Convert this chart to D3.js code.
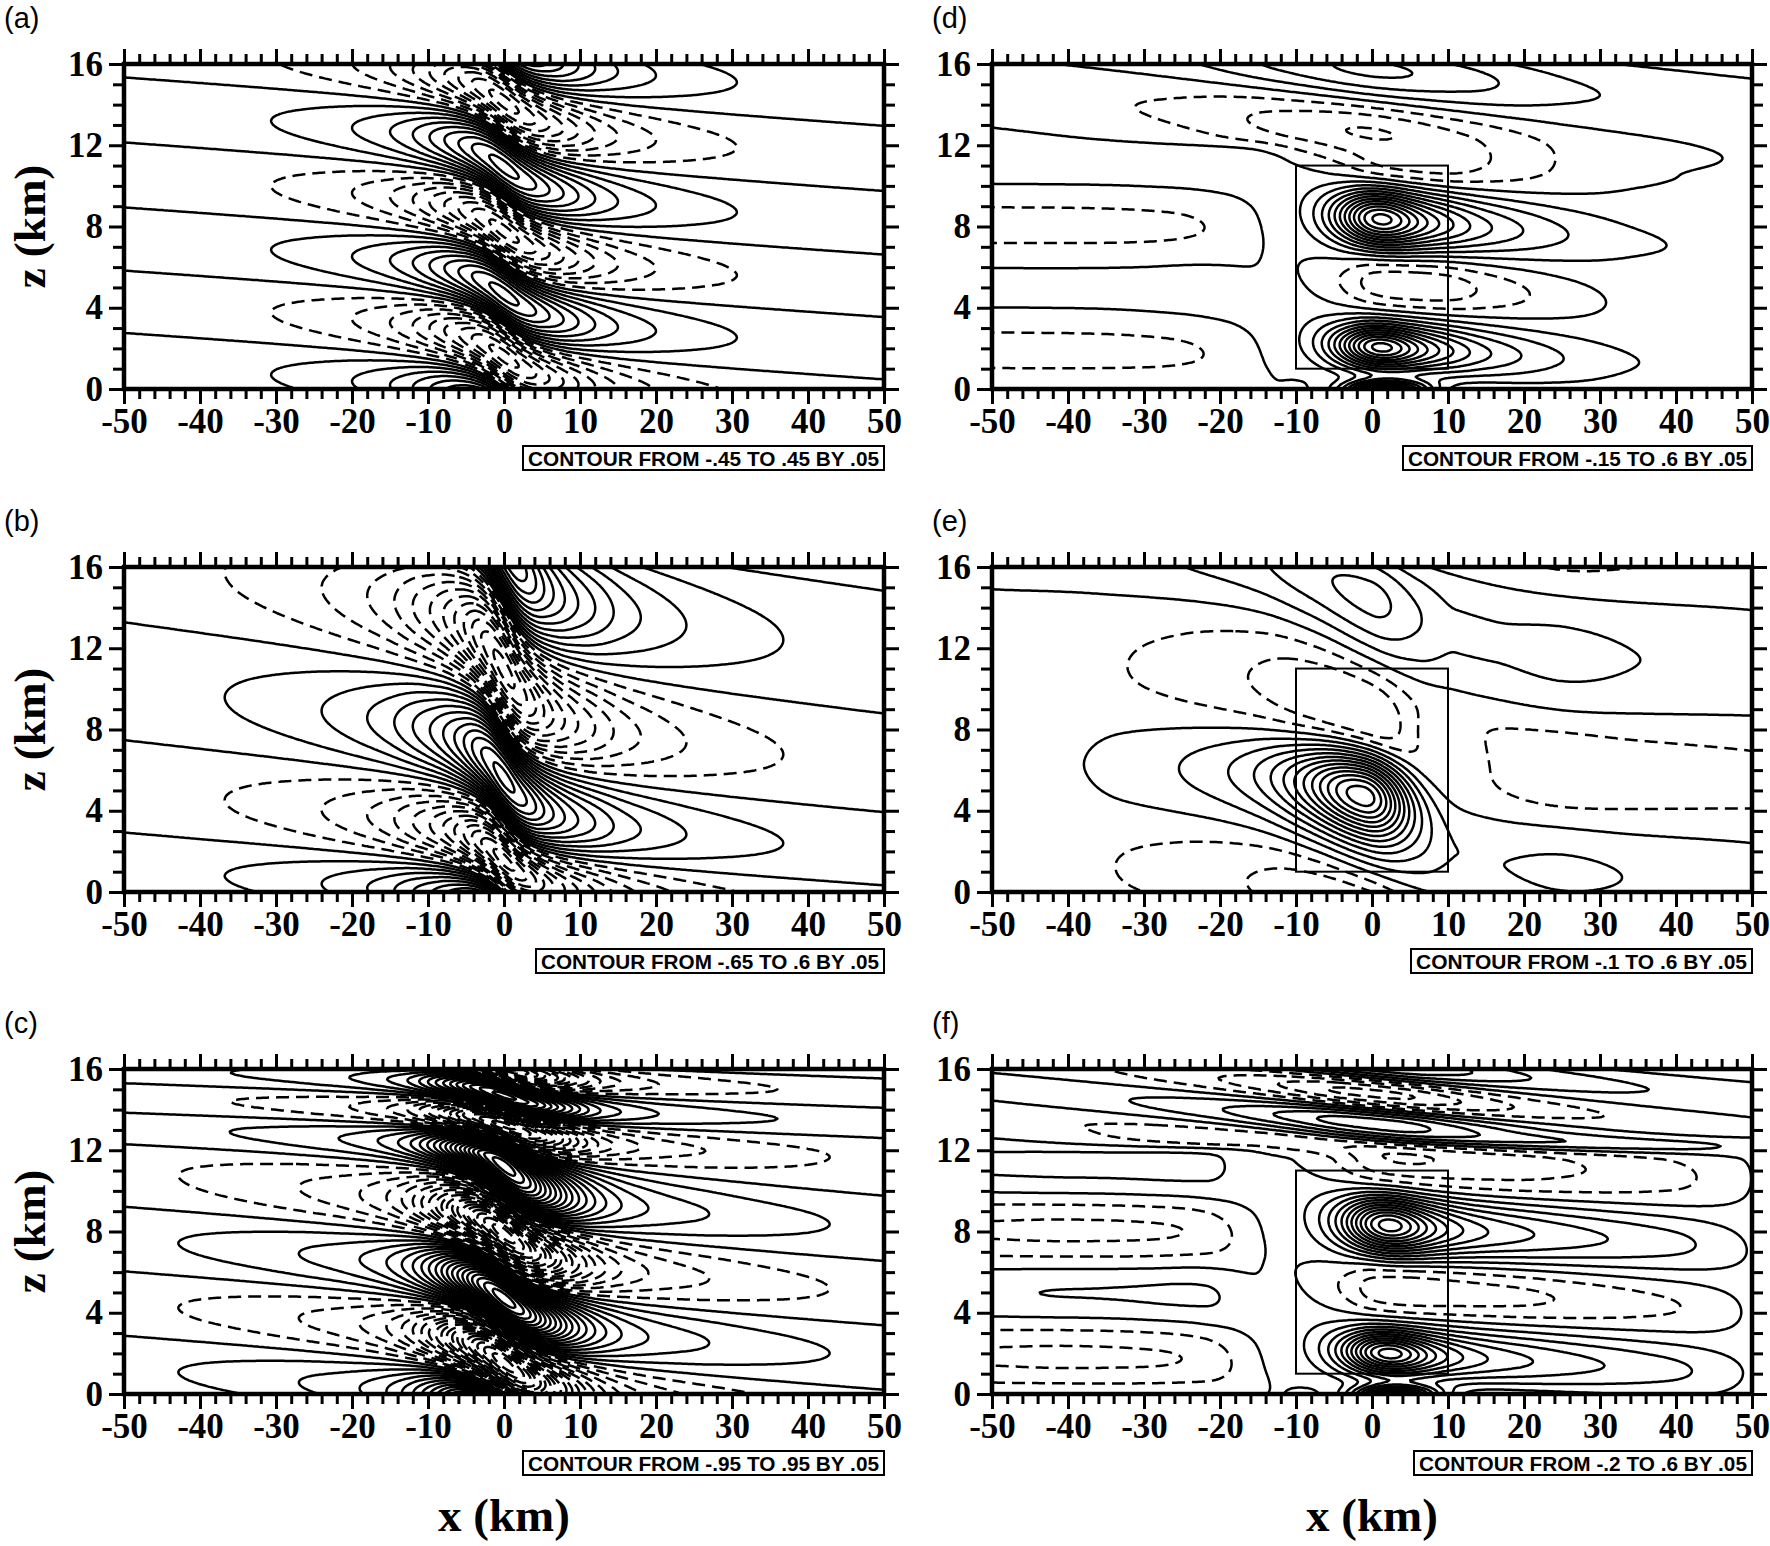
<!DOCTYPE html>
<html>
<head>
<meta charset="utf-8">
<script src="https://cdn.jsdelivr.net/npm/d3@7"></script>
<style>
  body { margin: 0; background: #fff; }
</style>
</head>
<body>
<div id="chart"></div>
<script>
// ---- values ----
const xTicks = [-50, -40, -30, -20, -10, 0, 10, 20, 30, 40, 50];
const zTicks = [0, 4, 8, 12, 16];
const panelIds = ["a", "b", "c", "d", "e", "f"];
const contourLabels = [
  "CONTOUR FROM -.45 TO .45 BY .05",
  "CONTOUR FROM -.65 TO .6 BY .05",
  "CONTOUR FROM -.95 TO .95 BY .05",
  "CONTOUR FROM -.15 TO .6 BY .05",
  "CONTOUR FROM -.1 TO .6 BY .05",
  "CONTOUR FROM -.2 TO .6 BY .05"
];
const levelFrom = [-0.45, -0.65, -0.95, -0.15, -0.1, -0.2];
const levelTo = [0.45, 0.6, 0.95, 0.6, 0.6, 0.6];
const levelStep = 0.05;
const boxX = [-10, 10];   // rectangle drawn in d, e, f
const boxZ = [1, 11];

// zero-line heights on the left edge (km), phase shift along x (units of pi),
// amplitude envelope along x, and local cores / offsets
const shiftX = [-50, -40, -30, -20, -15, -10, -7, -4, -2, 0, 2, 4, 7, 10, 15, 20, 30, 40, 50];

// (a)
const zeroA = [2.76, 5.83, 8.94, 12.14, 15.34];
const shiftA = [0, 0.086, 0.176, 0.276, 0.336, 0.414, 0.482, 0.591, 0.709, 0.873, 1.036, 1.154, 1.263, 1.331, 1.409, 1.469, 1.569, 1.659, 1.745];
const envXA = [-50, -40, -30, -20, -15, -12, -9, -6, -3, 0, 3, 6, 9, 12, 15, 20, 30, 40, 50];
const envA = [0.025, 0.035, 0.052, 0.1, 0.15, 0.2, 0.27, 0.35, 0.43, 0.47, 0.43, 0.35, 0.27, 0.2, 0.15, 0.1, 0.052, 0.035, 0.025];

// (b)
const zeroB = [-0.5, 2.93, 7.48, 13.28, 19.8];
const shiftB = [0, 0.085, 0.173, 0.270, 0.326, 0.399, 0.461, 0.565, 0.687, 0.877, 1.066, 1.189, 1.292, 1.355, 1.427, 1.484, 1.581, 1.669, 1.754];
const envXB = [-50, -36, -24, -18, -15, -12, -9, -6, -3, 0, 3, 6, 9, 12, 15, 18, 24, 36, 50];
const envB = [0.03, 0.052, 0.1, 0.15, 0.19, 0.25, 0.32, 0.42, 0.55, 0.62, 0.55, 0.42, 0.32, 0.25, 0.19, 0.15, 0.1, 0.052, 0.03];

// (c)
const zeroC = [-0.3, 2.87, 6.04, 9.22, 12.3, 13.85, 15.3, 16.75];
const shiftC = [0, 0.095, 0.195, 0.305, 0.369, 0.452, 0.523, 0.635, 0.755, 0.920, 1.086, 1.206, 1.317, 1.388, 1.471, 1.536, 1.645, 1.745, 1.840];
const envXC = [-50, -42, -27, -19, -15, -12, -9, -6, -3, 0, 3, 6, 9, 12, 15, 19, 27, 42, 50];
const envC = [0.038, 0.052, 0.1, 0.15, 0.21, 0.3, 0.45, 0.66, 0.88, 0.98, 0.88, 0.66, 0.45, 0.3, 0.21, 0.15, 0.1, 0.052, 0.038];
const envTopXC = [-50, -35, -25, -18, -12, -8, -4, 0, 4, 8, 12, 18, 25, 35, 50];
const envTopC = [0.03, 0.052, 0.08, 0.12, 0.22, 0.4, 0.62, 0.72, 0.62, 0.4, 0.22, 0.12, 0.08, 0.052, 0.03];

// (d)
const zeroD = [0.265, 3.415, 6.565, 9.735, 13.13, 16.3];
const shiftXD = [-50, -30, -21, -16, -13, -10, -6, 0, 10, 25, 50];
const shiftD = [0, 0.02, 0.06, 0.2, 0.45, 0.7, 0.85, 0.92, 1.0, 1.15, 1.47];
const shiftTopXD = [-50, 50];
const shiftTopD = [0, 1.34];
const envXD = [-50, -30, -22, -17, -14, -11, -8, -4, 0, 5, 10, 15, 20, 25, 35, 50];
const envD = [0.045, 0.045, 0.04, 0.02, 0.005, 0.01, 0.03, 0.08, 0.15, 0.17, 0.16, 0.12, 0.085, 0.055, 0.018, 0.01];
const envTopXD = [-50, -35, -25, -12, 0, 12, 25, 35, 50];
const envTopD = [0.03, 0.04, 0.06, 0.12, 0.16, 0.12, 0.06, 0.04, 0.03];
const coresD = [
  { x: -60, z: 5, a: -0.026, wl: 30, pl: 0, wr: 40, pr: -6, h: 7, tilt: 0 },
  { x: 23, z: 5, a: 0.03, wl: 36, pl: -6, wr: 80, pr: 0, h: 6, tilt: 0 },
  { x: 1, z: 8.37, a: 0.44, wl: 6, pl: 0, wr: 6, pr: 1, h: 1.3, tilt: -0.03 },
  { x: 1, z: 2.05, a: 0.44, wl: 6, pl: 0, wr: 6, pr: 1, h: 1.0, tilt: -0.02 },
  { x: 1.5, z: -0.1, a: 0.6, wl: 5, pl: 0, wr: 6, pr: 0, h: 0.5, tilt: 0 }
];

// (e)
const zeroE = [-1.5, 3.6, 8.5, 14.6, 19.8];
const shiftXE = [-50, -30, -15, -8, -1, 8, 20, 50];
const shiftE = [0, 0.03, 0.15, 0.3, 0.5, 0.75, 0.95, 1.1];
const envXE = [-50, -38, -33, -25, -16, -9, 0, 6, 11, 16, 25, 35, 50];
const envE = [0.012, 0.022, 0.038, 0.06, 0.09, 0.13, 0.17, 0.11, 0.065, 0.065, 0.075, 0.06, 0.045];
const coresE = [
  { x: 0, z: 5.5, a: -0.025, wl: 300, pl: 0, wr: 300, pr: 0, h: 6, tilt: 0 },
  { x: -1.07, z: 5.0, a: 0.54, wl: 12, pl: 2, wr: 6, pr: 0, h: 2.0, tilt: -0.08 },
  { x: 9, z: 7.3, a: 0.09, wl: 6, pl: 0, wr: 7, pr: 0, h: 1.5, tilt: -0.15 }
];

// (f)
const zeroF = [0.21, 3.39, 6.57, 9.66, 12.8, 14.34, 15.87, 17.4];
const shiftXF = [-50, -30, -21, -16, -13, -10, -6, 0, 10, 25, 40, 50];
const shiftF = [0, 0.02, 0.06, 0.2, 0.45, 0.7, 0.85, 0.93, 1.0, 1.1, 1.21, 1.3];
const shiftTopXF = [-50, 50];
const shiftTopF = [0, 2.4];
const envXF = [-50, -40, -30, -22, -17, -14, -11, -8, -4, 0, 5, 10, 15, 20, 25, 35, 42, 50];
const envF = [0.08, 0.085, 0.085, 0.075, 0.03, 0.005, 0.01, 0.03, 0.08, 0.15, 0.17, 0.16, 0.15, 0.14, 0.125, 0.095, 0.07, 0.015];
const envTopXF = [-50, -33, -20, -10, -5, 0, 5, 10, 20, 33, 50];
const envTopF = [0.025, 0.052, 0.1, 0.17, 0.21, 0.22, 0.21, 0.17, 0.1, 0.052, 0.025];
const coresF = [
  { x: -60, z: 5, a: -0.034, wl: 30, pl: 0, wr: 40, pr: -6, h: 7, tilt: 0 },
  { x: 23, z: 5, a: 0.028, wl: 36, pl: -6, wr: 80, pr: 0, h: 8, tilt: 0 },
  { x: 2.2, z: 8.32, a: 0.44, wl: 6, pl: 0, wr: 6, pr: 1, h: 1.3, tilt: -0.03 },
  { x: 2.2, z: 2.0, a: 0.44, wl: 6, pl: 0, wr: 6, pr: 1, h: 1.0, tilt: -0.02 },
  { x: 2.7, z: -0.1, a: 0.6, wl: 5, pl: 0, wr: 6, pr: 0, h: 0.5, tilt: 0 }
];

const fields = [
  { zero: zeroA, sign: -1, sx: shiftX, st: shiftA, ex: envXA, ev: envA, cores: [] },
  { zero: zeroB, sign: 1, sx: shiftX, st: shiftB, ex: envXB, ev: envB, cores: [] },
  { zero: zeroC, sign: 1, sx: shiftX, st: shiftC, ex: envXC, ev: envC,
    tx: envTopXC, tv: envTopC, blend: [11.8, 13.0], cores: [] },
  { zero: zeroD, sign: -1, sx: shiftXD, st: shiftD, ex: envXD, ev: envD,
    tx: envTopXD, tv: envTopD, tsx: shiftTopXD, tst: shiftTopD, blend: [10.5, 12.5], cores: coresD },
  { zero: zeroE, sign: -1, sx: shiftXE, st: shiftE, ex: envXE, ev: envE, cores: coresE },
  { zero: zeroF, sign: -1, sx: shiftXF, st: shiftF, ex: envXF, ev: envF,
    tx: envTopXF, tv: envTopF, tsx: shiftTopXF, tst: shiftTopF, blend: [11.5, 13.0], cores: coresF }
];

// ---- helpers ----
// monotone cubic through a table (Fritsch-Carlson)
function monotone(xs, ys, clamp) {
  const n = xs.length, d = [], m = new Array(n);
  for (let i = 0; i < n - 1; i++) d[i] = (ys[i + 1] - ys[i]) / (xs[i + 1] - xs[i]);
  m[0] = d[0]; m[n - 1] = d[n - 2];
  for (let i = 1; i < n - 1; i++) m[i] = d[i - 1] * d[i] <= 0 ? 0 : (d[i - 1] + d[i]) / 2;
  for (let i = 0; i < n - 1; i++) {
    if (d[i] === 0) { m[i] = 0; m[i + 1] = 0; continue; }
    const a = m[i] / d[i], b = m[i + 1] / d[i], s = a * a + b * b;
    if (s > 9) { const t = 3 / Math.sqrt(s); m[i] = t * a * d[i]; m[i + 1] = t * b * d[i]; }
  }
  return x => {
    if (x <= xs[0]) return clamp ? ys[0] : ys[0] + m[0] * (x - xs[0]);
    if (x >= xs[n - 1]) return clamp ? ys[n - 1] : ys[n - 1] + m[n - 1] * (x - xs[n - 1]);
    const i = Math.min(n - 2, d3.bisectRight(xs, x) - 1);
    const h = xs[i + 1] - xs[i], t = (x - xs[i]) / h, t2 = t * t, t3 = t2 * t;
    return (2 * t3 - 3 * t2 + 1) * ys[i] + (t3 - 2 * t2 + t) * h * m[i] +
           (-2 * t3 + 3 * t2) * ys[i + 1] + (t3 - t2) * h * m[i + 1];
  };
}

// p = 0 gaussian, p > 0 lorentzian power, p < 0 flat-topped
function sideShape(u, p) {
  if (p === 0) return Math.exp(-u * u);
  if (p > 0) return Math.pow(1 + u * u, -p);
  return Math.exp(-Math.pow(Math.abs(u), -p));
}

function coreValue(b, x, z) {
  const dx = x - b.x;
  const hx = dx < 0 ? sideShape(dx / b.wl, b.pl) : sideShape(dx / b.wr, b.pr);
  const dz = (z - b.z - b.tilt * dx) / b.h;
  return b.a * hx * Math.exp(-dz * dz);
}

function makeField(f) {
  const P = monotone(f.zero, f.zero.map((_, i) => i), false);
  const T = monotone(f.sx, f.st, false);
  const A = monotone(f.ex, f.ev, true);
  const At = f.tx ? monotone(f.tx, f.tv, true) : null;
  const Tt = f.tsx ? monotone(f.tsx, f.tst, false) : null;
  return (x, z) => {
    let a = A(x), t = T(x);
    if (f.blend) {
      let s = (z - f.blend[0]) / (f.blend[1] - f.blend[0]);
      s = Math.max(0, Math.min(1, s));
      s = s * s * (3 - 2 * s);
      if (At) a = a * (1 - s) + At(x) * s;
      if (Tt) t = t * (1 - s) + Tt(x) * s;
    }
    let v = f.sign * a * Math.sin(Math.PI * (P(z) + t));
    for (const b of f.cores) v += coreValue(b, x, z);
    return v;
  };
}

// ---- layout ----
const W = 1770, H = 1546;
const cols = [[124, 884], [992, 1752]];
const rows = [[64, 389], [567, 892], [1069, 1394]];
const boxWidths = [361, 348, 361, 349, 341, 338];
const serif = "'Liberation Serif', 'Times New Roman', serif";
const sans = "'Liberation Sans', Arial, Helvetica, sans-serif";

const svg = d3.select("#chart").append("svg")
  .attr("width", W).attr("height", H)
  .attr("viewBox", `0 0 ${W} ${H}`)
  .style("background", "#fff");

const defs = svg.append("defs");

const xMinor = d3.range(-50, 51, 2).filter(v => v % 10 !== 0);
const zMinor = d3.range(0, 17, 1).filter(v => v % 4 !== 0);

panelIds.forEach((id, k) => {
  const col = k < 3 ? 0 : 1, row = k % 3;
  const [x0, x1] = cols[col], [y0, y1] = rows[row];
  const gx = d3.scaleLinear().domain([-50, 50]).range([x0, x1]);
  const gz = d3.scaleLinear().domain([0, 16]).range([y1, y0]);

  defs.append("clipPath").attr("id", "clip-" + id)
    .append("rect").attr("x", x0).attr("y", y0).attr("width", x1 - x0).attr("height", y1 - y0);

  // field sampled on a grid a little larger than the plot
  const X0 = -51, Z0 = -0.6, DX = 0.25, DZ = 0.08;
  const nx = Math.round(102 / DX) + 1, nz = Math.round(17.2 / DZ) + 1;
  const field = makeField(fields[k]);
  const vals = new Float64Array(nx * nz);
  for (let j = 0; j < nz; j++) {
    const z = Z0 + j * DZ;
    for (let i = 0; i < nx; i++) vals[j * nx + i] = field(X0 + i * DX, z);
  }
  const nLev = Math.round((levelTo[k] - levelFrom[k]) / levelStep);
  const levels = d3.range(nLev + 1).map(i => Math.round((levelFrom[k] + i * levelStep) * 100) / 100);
  const contours = d3.contours().size([nx, nz]).thresholds(levels)(vals);

  const cg = svg.append("g").attr("clip-path", `url(#clip-${id})`);
  contours.forEach(c => {
    let d = "";
    c.coordinates.forEach(poly => poly.forEach(ring => {
      d += "M" + ring.map(p =>
        gx(X0 + (p[0] - 0.5) * DX).toFixed(1) + "," + gz(Z0 + (p[1] - 0.5) * DZ).toFixed(1)
      ).join("L");
    }));
    if (!d) return;
    cg.append("path")
      .attr("d", d)
      .attr("fill", "none")
      .attr("stroke", "#000")
      .attr("stroke-width", 2.5)
      .attr("stroke-linejoin", "round")
      .attr("stroke-dasharray", c.value < -1e-9 ? "13,7" : null);
  });

  if (col === 1) {
    svg.append("rect")
      .attr("x", gx(boxX[0])).attr("y", gz(boxZ[1]))
      .attr("width", gx(boxX[1]) - gx(boxX[0]))
      .attr("height", gz(boxZ[0]) - gz(boxZ[1]))
      .attr("fill", "none").attr("stroke", "#000").attr("stroke-width", 2);
  }

  // axes: labelled majors bottom/left, minors on all sides, ticks outward
  const styleAxis = g => {
    g.select(".domain").remove();
    g.selectAll("line").attr("stroke", "#000").attr("stroke-width", 3);
    g.attr("font-family", serif).attr("font-size", 35).attr("font-weight", "bold");
    g.selectAll("text").attr("fill", "#000");
  };
  const put = (axis, ty, tx) => svg.append("g")
    .attr("transform", `translate(${tx || 0},${ty || 0})`).call(axis).call(styleAxis);

  put(d3.axisBottom(gx).tickValues(xTicks).tickSize(15).tickPadding(4).tickFormat(d => String(d)), y1);
  put(d3.axisBottom(gx).tickValues(xMinor).tickSize(10).tickFormat(""), y1);
  put(d3.axisTop(gx).tickValues(xTicks).tickSize(15).tickFormat(""), y0);
  put(d3.axisTop(gx).tickValues(xMinor).tickSize(10).tickFormat(""), y0);
  put(d3.axisLeft(gz).tickValues(zTicks).tickSize(15).tickPadding(6).tickFormat(d => String(d)), 0, x0);
  put(d3.axisLeft(gz).tickValues(zMinor).tickSize(11).tickFormat(""), 0, x0);
  put(d3.axisRight(gz).tickValues(zTicks).tickSize(15).tickFormat(""), 0, x1);
  put(d3.axisRight(gz).tickValues(zMinor).tickSize(11).tickFormat(""), 0, x1);

  svg.append("rect")
    .attr("x", x0).attr("y", y0).attr("width", x1 - x0).attr("height", y1 - y0)
    .attr("fill", "none").attr("stroke", "#000").attr("stroke-width", 4.5);

  // panel letter
  svg.append("text")
    .attr("x", col === 0 ? 4 : 932).attr("y", y0 - 36)
    .attr("font-family", sans).attr("font-size", 29)
    .text(`(${id})`);

  // contour information box
  const bw = boxWidths[k], bx = x1 - bw, by = y1 + 57;
  svg.append("rect")
    .attr("x", bx).attr("y", by).attr("width", bw).attr("height", 24)
    .attr("fill", "#fff").attr("stroke", "#000").attr("stroke-width", 2);
  svg.append("text")
    .attr("x", bx + 5).attr("y", by + 19.5)
    .attr("font-family", sans).attr("font-size", 20).attr("font-weight", "bold")
    .attr("textLength", bw - 10).attr("lengthAdjust", "spacingAndGlyphs")
    .text(contourLabels[k]);

  if (col === 0) {
    svg.append("text")
      .attr("transform", `translate(45,${(y0 + y1) / 2}) rotate(-90)`)
      .attr("text-anchor", "middle")
      .attr("font-family", serif).attr("font-size", 45).attr("font-weight", "bold")
      .text("z (km)");
  }
  if (row === 2) {
    svg.append("text")
      .attr("x", gx(0)).attr("y", 1531)
      .attr("text-anchor", "middle")
      .attr("font-family", serif).attr("font-size", 47).attr("font-weight", "bold")
      .text("x (km)");
  }
});
</script>
</body>
</html>
